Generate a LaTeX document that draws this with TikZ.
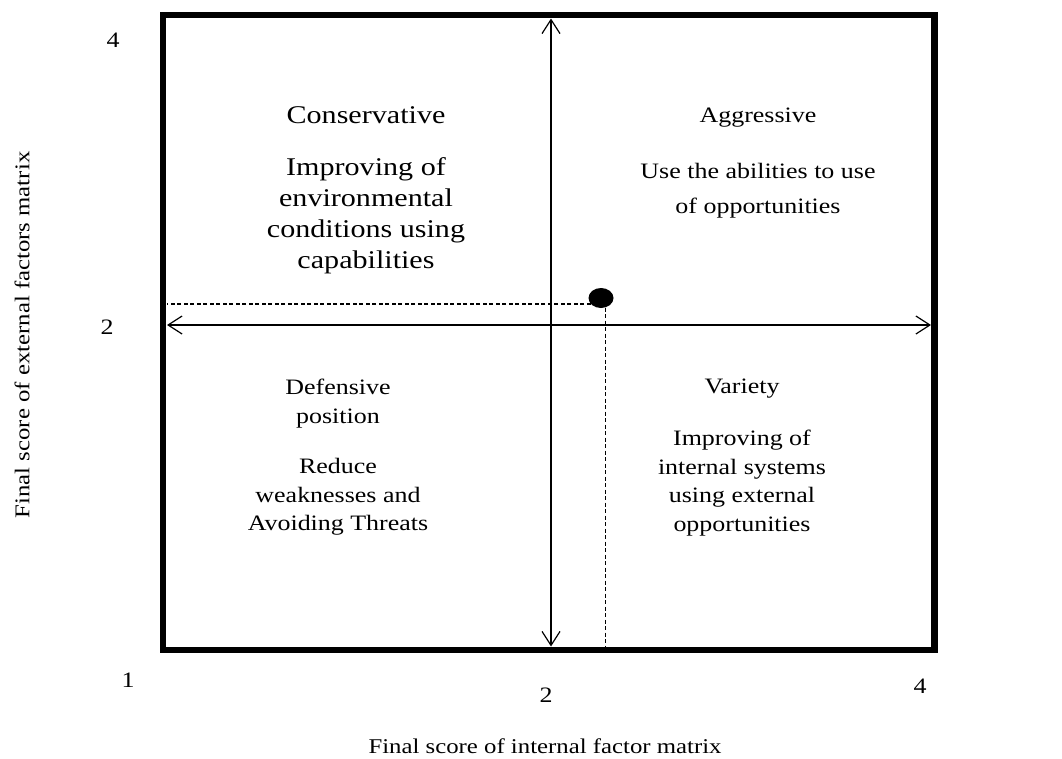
\documentclass[tikz,border=0pt]{standalone}
\usepackage{fontspec}
\setmainfont{Liberation Serif}[FakeStretch=1.18]
\usetikzlibrary{arrows.meta,shapes.geometric}

\begin{document}
\begin{tikzpicture}[
  x=1pt,
  y=-1pt,
  >={Straight Barb[length=14pt,width=18pt]},
  frame/.style={line width=6.5pt},
  axis/.style={<->, line width=1.2pt},
  guide/.style={dash pattern=on 4pt off 2.5pt, line width=1.1pt},
  dot/.style={ellipse, fill=black, minimum width=25pt, minimum height=20pt, inner sep=0pt},
  title/.style={align=center, font=\fontsize{22}{28.7}\selectfont},
  quad/.style={align=center, font=\fontsize{22}{28.7}\selectfont},
  tick/.style={font=\fontsize{22}{26}\selectfont},
  axislabel/.style={font=\fontsize{21}{25}\selectfont}
]
  \useasboundingbox (0,0) rectangle (1062,758);

  \draw[frame] (163,15) rectangle (934.5,650);

  \coordinate (vt) at (551,18.5);
  \coordinate (vb) at (551,646.5);
  \coordinate (hl) at (167,325);
  \coordinate (hr) at (931,325);
  \draw[axis] (vt) -- (vb);
  \draw[axis] (hl) -- (hr);

  \node[dot] (pos) at (601,298) {};
  \draw[guide] (pos.210) -- (pos.210 -| hl);
  \draw[guide] (pos.294) -- (pos.294 |- vb);

  \node[title, font=\fontsize{25.5}{31}\selectfont] (cons) at (366,115) {Conservative};
  \node[quad, font=\fontsize{25.5}{31}\selectfont] (consbody) at (366,216) {Improving of\\environmental\\conditions using\\capabilities};

  \node[title] (aggr) at (758,118) {Aggressive};
  \node[quad, font=\fontsize{22}{35}\selectfont] (aggrbody) at (758,190.5) {Use the abilities to use\\of opportunities};

  \node[title] (def) at (338,403.5) {Defensive\\position};
  \node[quad] (defbody) at (338,497) {Reduce\\weaknesses and\\Avoiding Threats};

  \node[title] (var) at (742,389) {Variety};
  \node[quad] (varbody) at (742,483) {Improving of\\internal systems\\using external\\opportunities};

  \node[tick] (y4) at (113,40) {4};
  \node[tick] (y2) at (107,327) {2};
  \node[tick] (x1) at (128,680) {1};
  \node[tick] (x2) at (546,695) {2};
  \node[tick] (x4) at (920,686) {4};

  \node[axislabel] (xlab) at (545,746) {Final score of internal factor matrix};
  \node[axislabel, rotate=90] (ylab) at (22,335) {Final score of external factors matrix};
\end{tikzpicture}
\end{document}
